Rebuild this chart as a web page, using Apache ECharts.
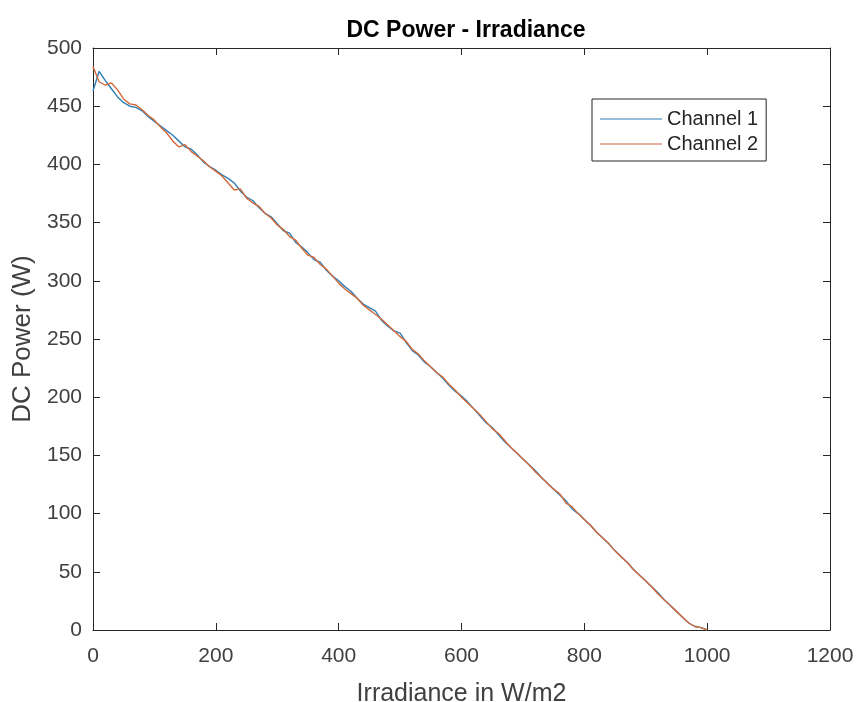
<!DOCTYPE html>
<html>
<head>
<meta charset="utf-8">
<script src="https://cdn.jsdelivr.net/npm/echarts@6/dist/echarts.min.js"></script>
<style>
html,body{margin:0;padding:0;background:#fff;}
#chart{width:858px;height:702px;}
</style>
</head>
<body>
<div id="chart"></div>
<script>
const titleText = 'DC Power - Irradiance';
const xAxisName = 'Irradiance in W/m2';
const yAxisName = 'DC Power (W)';
const seriesNames = ['Channel 1', 'Channel 2'];

const irradiance = [
  0,10,20,30,40,50,60,70,80,90,
  100,110,120,130,140,150,160,170,180,190,
  200,210,220,230,240,250,260,270,280,290,
  300,310,320,330,340,350,360,370,380,390,
  400,410,420,430,440,450,460,470,480,490,
  500,510,520,530,540,550,560,570,580,590,
  600,610,620,630,640,650,660,670,680,690,
  700,710,720,730,740,750,760,770,780,790,
  800,810,820,830,840,850,860,870,880,890,
  900,910,920,930,940,950,960,970,980,990,
  1000
];

const channel1 = [
  463,480,472,465,458,453,450,449,446,441,
  437,433,429,425,420,415,413,408,402,398,
  395,391,388,384,377,372,369,363,358,355,
  349,343,341,333,329,324,318,316,309,304,
  300,295,291,285,280,277,274,266,261,257,
  255,247,240,236,230,226,221,216,210,205,
  201,196,190,184,178,174,168,162,157,152,
  147,142,137,131,126,121,116,111,104,100,
  95,90,84,79,74,68,63,58,52,47,
  42,37,32,26,21,16,11,6,3,2,
  0
];

const channel2 = [
  484,471,468,470,464,456,452,451,447,442,
  438,432,427,420,415,417,411,407,403,398,
  394,390,384,378,379,371,367,364,358,354,
  348,344,338,335,328,322,320,314,310,304,
  298,293,289,285,279,275,271,267,262,257,
  252,248,241,237,231,226,221,217,211,206,
  200,195,190,185,179,173,169,163,157,152,
  147,142,136,131,126,121,117,109,106,100,
  95,90,84,79,74,68,63,58,52,47,
  42,37,31,26,21,16,11,6,3,2,
  0
];

const xMin = 0, xMax = 1200, xStep = 200;
const yMin = 0, yMax = 500, yStep = 50;

const font = '"Liberation Sans", Arial, Helvetica, sans-serif';
const axisColor = '#262626';
const labelColor = '#404040';

const chart = echarts.init(document.getElementById('chart'), null, {renderer: 'canvas'});

function valAxis(extra) {
  return Object.assign({
    type: 'value',
    splitLine: {show: false},
    axisLine: {show: true, onZero: false, lineStyle: {color: axisColor, width: 1}},
    axisTick: {show: true, inside: true, length: 7, lineStyle: {color: axisColor, width: 1}},
    axisLabel: {show: true, color: labelColor, fontFamily: font, fontSize: 21},
  }, extra);
}

const plainFmt = v => String(v);

chart.setOption({
  animation: false,
  backgroundColor: '#ffffff',
  title: {
    text: titleText,
    left: 461,
    top: 14,
    textAlign: 'center',
    textStyle: {fontFamily: font, fontSize: 23, fontWeight: 'bold', color: '#000000'}
  },
  legend: {
    orient: 'vertical',
    left: 592,
    top: 99,
    padding: [10, 8, 7, 8],
    itemGap: 5,
    itemWidth: 62,
    itemHeight: 20,
    icon: 'path://M0,9.4 L62,9.4 L62,10.6 L0,10.6 Z',
    borderColor: axisColor,
    borderWidth: 1,
    backgroundColor: '#ffffff',
    textStyle: {fontFamily: font, fontSize: 20, color: '#262626'},
    data: seriesNames
  },
  grid: {left: 93, right: 28, top: 48, bottom: 72, show: false, containLabel: false, outerBoundsMode: 'none'},
  xAxis: [
    valAxis({
      min: xMin, max: xMax, interval: xStep, position: 'bottom',
      name: xAxisName, nameLocation: 'middle', nameGap: 52,
      nameTextStyle: {fontFamily: font, fontSize: 25, color: labelColor},
      axisLabel: {show: true, color: labelColor, fontFamily: font, fontSize: 21, margin: 16, formatter: plainFmt}
    }),
    valAxis({
      min: xMin, max: xMax, interval: xStep, position: 'top',
      axisLabel: {show: false}
    })
  ],
  yAxis: [
    valAxis({
      min: yMin, max: yMax, interval: yStep, position: 'left',
      name: yAxisName, nameLocation: 'middle', nameGap: 57, nameRotate: 90,
      nameTextStyle: {fontFamily: font, fontSize: 26, color: labelColor},
      axisLabel: {show: true, color: labelColor, fontFamily: font, fontSize: 21, margin: 11, formatter: plainFmt}
    }),
    valAxis({
      min: yMin, max: yMax, interval: yStep, position: 'right',
      axisLabel: {show: false}
    })
  ],
  series: [
    {
      name: seriesNames[0],
      type: 'line',
      symbol: 'none',
      xAxisIndex: 0, yAxisIndex: 0,
      lineStyle: {color: '#2f7fb5', width: 1.4},
      itemStyle: {color: '#2f7fb5'},
      data: irradiance.map((x, i) => [x, channel1[i]])
    },
    {
      name: seriesNames[1],
      type: 'line',
      symbol: 'none',
      xAxisIndex: 0, yAxisIndex: 0,
      lineStyle: {color: '#d2693a', width: 1.4},
      itemStyle: {color: '#d2693a'},
      data: irradiance.map((x, i) => [x, channel2[i]])
    }
  ]
});
</script>
</body>
</html>
